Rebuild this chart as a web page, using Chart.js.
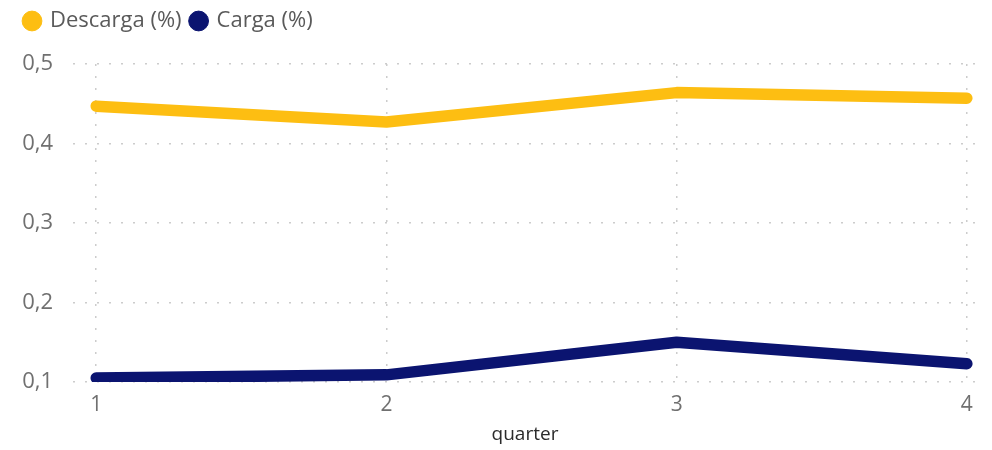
<!DOCTYPE html>
<html>
<head>
<meta charset="utf-8">
<script src="https://cdn.jsdelivr.net/npm/chart.js@4/dist/chart.umd.min.js"></script>
<style>
  html, body { margin: 0; padding: 0; background: #fff; }
  canvas { display: block; }
</style>
</head>
<body>
<canvas id="myChart" width="992" height="450"></canvas>
<script>
// Quarterly load / unload share
const quarters = [1, 2, 3, 4];
const descarga = [0.447, 0.427, 0.464, 0.457];
const carga = [0.105, 0.109, 0.150, 0.123];
const yTicks = [0.1, 0.2, 0.3, 0.4, 0.5];

const font = "'Open Sans', 'Noto Sans', sans-serif";
const gridDots = {
  color: "#cccccc",
  lineWidth: 1.5,
  tickLength: 0,
};

// push the plot a bit further below the legend
const legendGap = {
  id: "legendGap",
  beforeInit(chart) {
    const fit = chart.legend.fit;
    chart.legend.fit = function () {
      fit.call(this);
      this.height += 22;
    };
  },
};

new Chart(document.getElementById("myChart"), {
  type: "line",
  data: {
    datasets: [
      {
        label: "Descarga (%)",
        data: quarters.map((q, i) => ({ x: q, y: descarga[i] })),
        borderColor: "#FDBE12",
        backgroundColor: "#FDBE12",
      },
      {
        label: "Carga (%)",
        data: quarters.map((q, i) => ({ x: q, y: carga[i] })),
        borderColor: "#0B1470",
        backgroundColor: "#0B1470",
      },
    ],
  },
  options: {
    responsive: false,
    animation: false,
    layout: { padding: { left: 15, right: 15, top: 0, bottom: 0 } },
    elements: {
      line: { borderWidth: 11.5, tension: 0, borderCapStyle: "round", borderJoinStyle: "round" },
      point: { radius: 0, hoverRadius: 0 },
    },
    plugins: {
      tooltip: { enabled: false },
      legend: {
        position: "top",
        align: "start",
        labels: {
          usePointStyle: true,
          pointStyle: "circle",
          boxWidth: 14,
          boxHeight: 14,
          padding: 10,
          color: "#5a5a5a",
          font: { family: font, size: 22 },
        },
      },
    },
    scales: {
      x: {
        type: "linear",
        min: 0.92,
        max: 4.035,
        afterBuildTicks: (scale) => {
          scale.ticks = quarters.map((v) => ({ value: v }));
        },
        afterFit: (scale) => { scale.height = 68; },
        border: { display: false, dash: [2, 10] },
        grid: gridDots,
        ticks: {
          color: "#707070",
          padding: 10,
          font: { family: font, size: 21 },
          callback: (v) => String(v),
        },
        title: {
          display: true,
          text: "quarter",
          color: "#2b2b2b",
          padding: { top: 6 },
          font: { family: font, size: 19, weight: "500" },
        },
      },
      y: {
        min: 0.1,
        max: 0.5,
        afterBuildTicks: (scale) => {
          scale.ticks = yTicks.map((v) => ({ value: v }));
        },
        afterFit: (scale) => { scale.width = 58; },
        border: { display: false, dash: [2, 10] },
        grid: gridDots,
        ticks: {
          color: "#707070",
          padding: 20,
          font: { family: font, size: 22 },
          callback: (v) => v.toFixed(1).replace(".", ","),
        },
      },
    },
  },
  plugins: [legendGap],
});
</script>
</body>
</html>
